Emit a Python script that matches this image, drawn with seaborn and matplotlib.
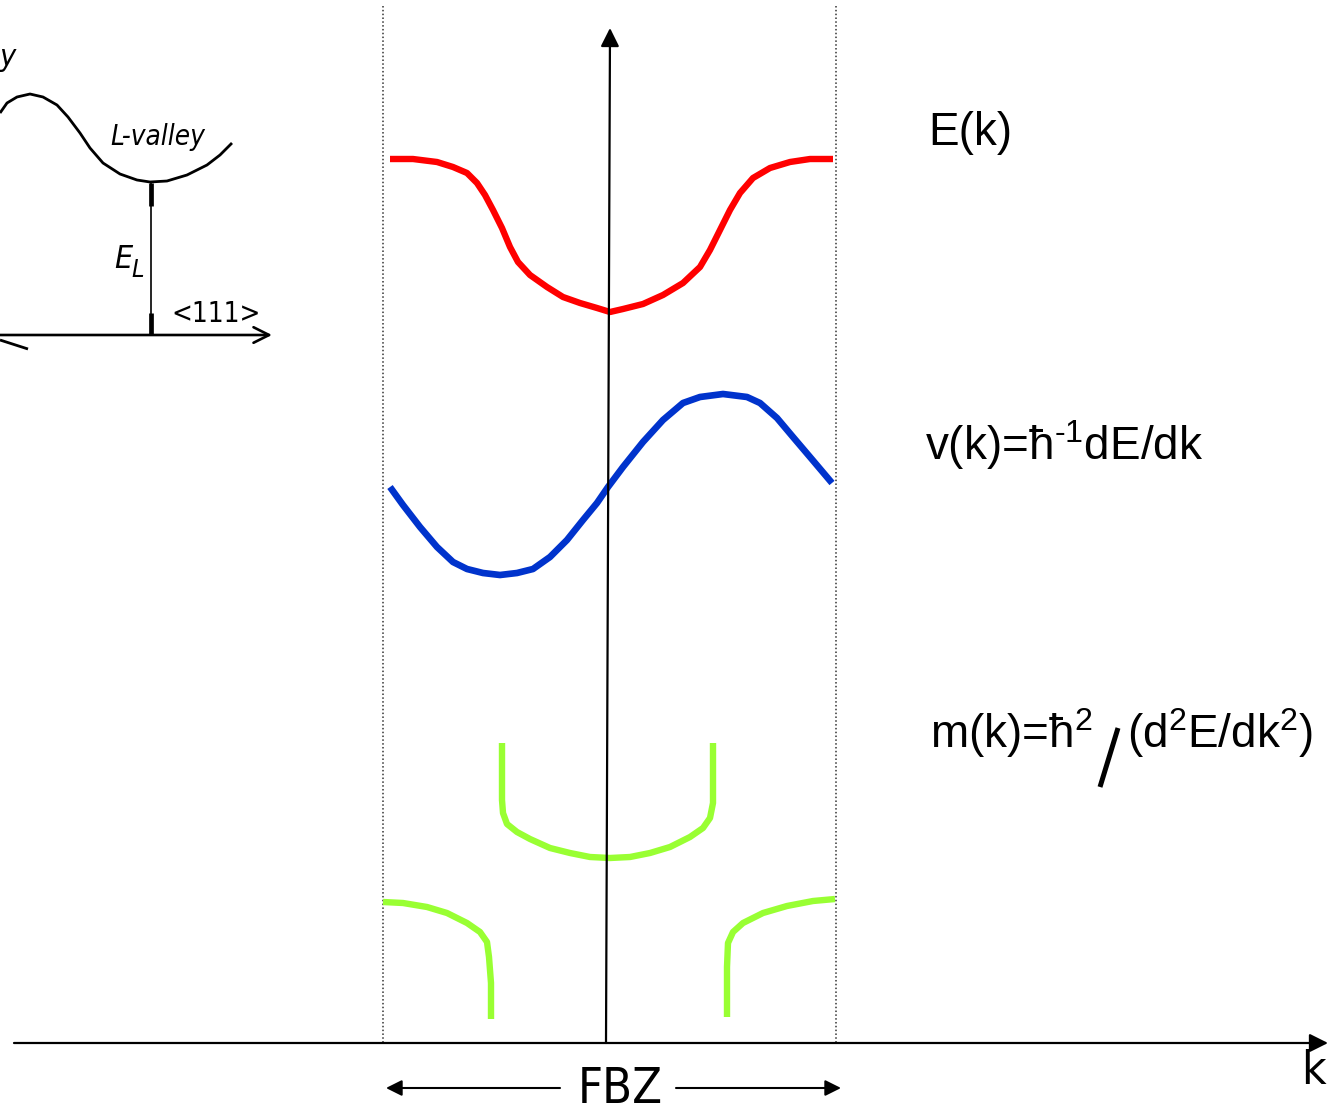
import numpy as np
import pandas as pd
import seaborn as sns
import matplotlib.pyplot as plt

sns.set_theme(style="white")
plt.rcParams['font.family'] = ['Liberation Sans', 'DejaVu Sans']
plt.rcParams['mathtext.fontset'] = 'custom'
plt.rcParams['mathtext.rm'] = 'Liberation Sans'
plt.rcParams['mathtext.it'] = 'Liberation Sans:italic'
plt.rcParams['mathtext.default'] = 'regular'
plt.rcParams['text.color'] = 'black'

# ---- data (schematic units = picture coordinates) ----
k_E = [390, 413, 437, 453, 467, 477, 485, 493, 502, 510, 518, 530, 547, 563, 580, 597, 610,
       623, 643, 663, 683, 700, 710, 720, 730, 740, 753, 770, 790, 810, 833]
E = [159, 159, 162, 167, 173, 183, 195, 210, 228, 247, 262, 275, 287, 297, 303, 308, 312,
     309, 304, 295, 283, 267, 250, 230, 210, 193, 178, 168, 162, 159, 159]

k_v = [390, 403, 420, 437, 453, 467, 483, 500, 517, 533, 550, 567, 583, 597, 608, 623, 643,
       663, 683, 700, 723, 747, 760, 777, 793, 810, 832]
v = [487, 505, 527, 547, 562, 569, 573, 575, 573, 569, 557, 540, 520, 503, 487, 467, 442,
     420, 403, 397, 394, 397, 403, 418, 437, 457, 483]

k_m_mid = [502, 502, 502, 503, 507, 517, 530, 550, 570, 590, 610, 630, 650, 670, 690, 703,
           710, 713, 713, 713]
m_mid = [743, 767, 800, 813, 824, 832, 839, 848, 853, 857, 858, 857, 853, 847, 837, 828,
         818, 803, 777, 743]

k_m_left = [383, 403, 427, 447, 467, 480, 487, 489, 491, 491]
m_left = [902, 903, 907, 913, 923, 932, 942, 957, 983, 1019]

k_m_right = [835, 813, 787, 763, 743, 733, 728, 727, 727]
m_right = [899, 901, 906, 913, 923, 932, 943, 967, 1017]

k_inset = [0, 7, 17, 30, 43, 57, 68, 80, 90, 103, 120, 137, 150, 167, 187, 207, 220, 232]
E_inset = [113, 103, 97, 94, 97, 105, 117, 133, 148, 163, 174, 180, 182, 181, 175, 165, 155, 143]

labels = ["E(k)", "v(k)=ħ$^{‐1}$dE/dk", "m(k)=ħ$^{2}$", "(d$^{2}$E/dk$^{2}$)"]

# ---- figure ----
fig = plt.figure(figsize=(13.33, 11.14), dpi=100)
ax = fig.add_axes([0, 0, 1, 1])
ax.set_xlim(0, 1333)
ax.set_ylim(1114, 0)
ax.axis('off')

# inset (old textbook sketch)
sns.lineplot(x=k_inset, y=E_inset, ax=ax, color='black', lw=2.0, sort=False, estimator=None)
ax.plot([0, 28], [340, 349], color='black', lw=2)
ax.annotate('', xy=(272, 335), xytext=(0, 335),
            arrowprops=dict(arrowstyle='->', lw=1.9, color='black', mutation_scale=28,
                            shrinkA=0, shrinkB=0))
ax.plot([151, 151], [182, 335], color='black', lw=1.2)
ax.plot([151, 151], [183, 206], color='black', lw=3.4)
ax.plot([151, 151], [313, 335], color='black', lw=3.4)
inset_font = dict(family='DejaVu Sans', fontstretch='condensed')
ax.text(110, 137, "L-valley", fontsize=20, style='italic', va='center', ha='left', **inset_font)
ax.text(114, 259, "E", fontsize=23, style='italic', va='center', **inset_font)
ax.text(131, 270, "L", fontsize=18, style='italic', va='center', **inset_font)
ax.text(171, 314, "<111>", fontsize=20, va='center', **inset_font)
ax.text(0, 58, "y", fontsize=22, style='italic', va='center', **inset_font)

# Brillouin-zone boundaries
for xb in (383, 836):
    ax.plot([xb, xb], [6, 1043], color='#333333', lw=1.1, ls=(0, (1, 1.5)))

# k axis
ax.annotate('', xy=(1328, 1043), xytext=(14, 1043),
            arrowprops=dict(arrowstyle='-|>', lw=1.6, color='black', mutation_scale=28,
                            shrinkA=0, shrinkB=0))
# energy axis
ax.annotate('', xy=(610, 28), xytext=(606, 1043),
            arrowprops=dict(arrowstyle='-|>', lw=1.6, color='black', mutation_scale=28,
                            shrinkA=0, shrinkB=0))

# curves
sns.lineplot(x=k_E, y=E, ax=ax, color='#ff0000', lw=4.6, sort=False, estimator=None)
sns.lineplot(x=k_v, y=v, ax=ax, color='#0033cc', lw=4.8, sort=False, estimator=None)
for kx, my in ((k_m_mid, m_mid), (k_m_left, m_left), (k_m_right, m_right)):
    sns.lineplot(x=kx, y=my, ax=ax, color='#99ff33', lw=4.6, sort=False, estimator=None)
for ln in ax.lines:
    ln.set_solid_capstyle('butt')
    ln.set_solid_joinstyle('round')

# labels
ax.text(928, 133, labels[0], fontsize=33, va='center', ha='left')
ax.text(925, 445, labels[1], fontsize=33, va='center', ha='left')
ax.text(930, 733, labels[2], fontsize=33, va='center', ha='left')
ax.plot([1118, 1100], [728, 787], color='black', lw=3.6, solid_capstyle='butt')
ax.text(1127, 733, labels[3], fontsize=33, va='center', ha='left')

# FBZ
ax.annotate('', xy=(386, 1088), xytext=(560, 1088),
            arrowprops=dict(arrowstyle='-|>', lw=1.5, color='black', mutation_scale=24,
                            shrinkA=0, shrinkB=0))
ax.annotate('', xy=(841, 1088), xytext=(676, 1088),
            arrowprops=dict(arrowstyle='-|>', lw=1.5, color='black', mutation_scale=24,
                            shrinkA=0, shrinkB=0))
ax.text(620, 1113, "FBZ", fontsize=35, family='DejaVu Sans', fontstretch='condensed',
        ha='center', va='bottom')
ax.text(1313, 1084, "k", fontsize=34, family='DejaVu Sans', fontstretch='condensed',
        ha='center', va='baseline')

fig.savefig('out.png', dpi=100)
